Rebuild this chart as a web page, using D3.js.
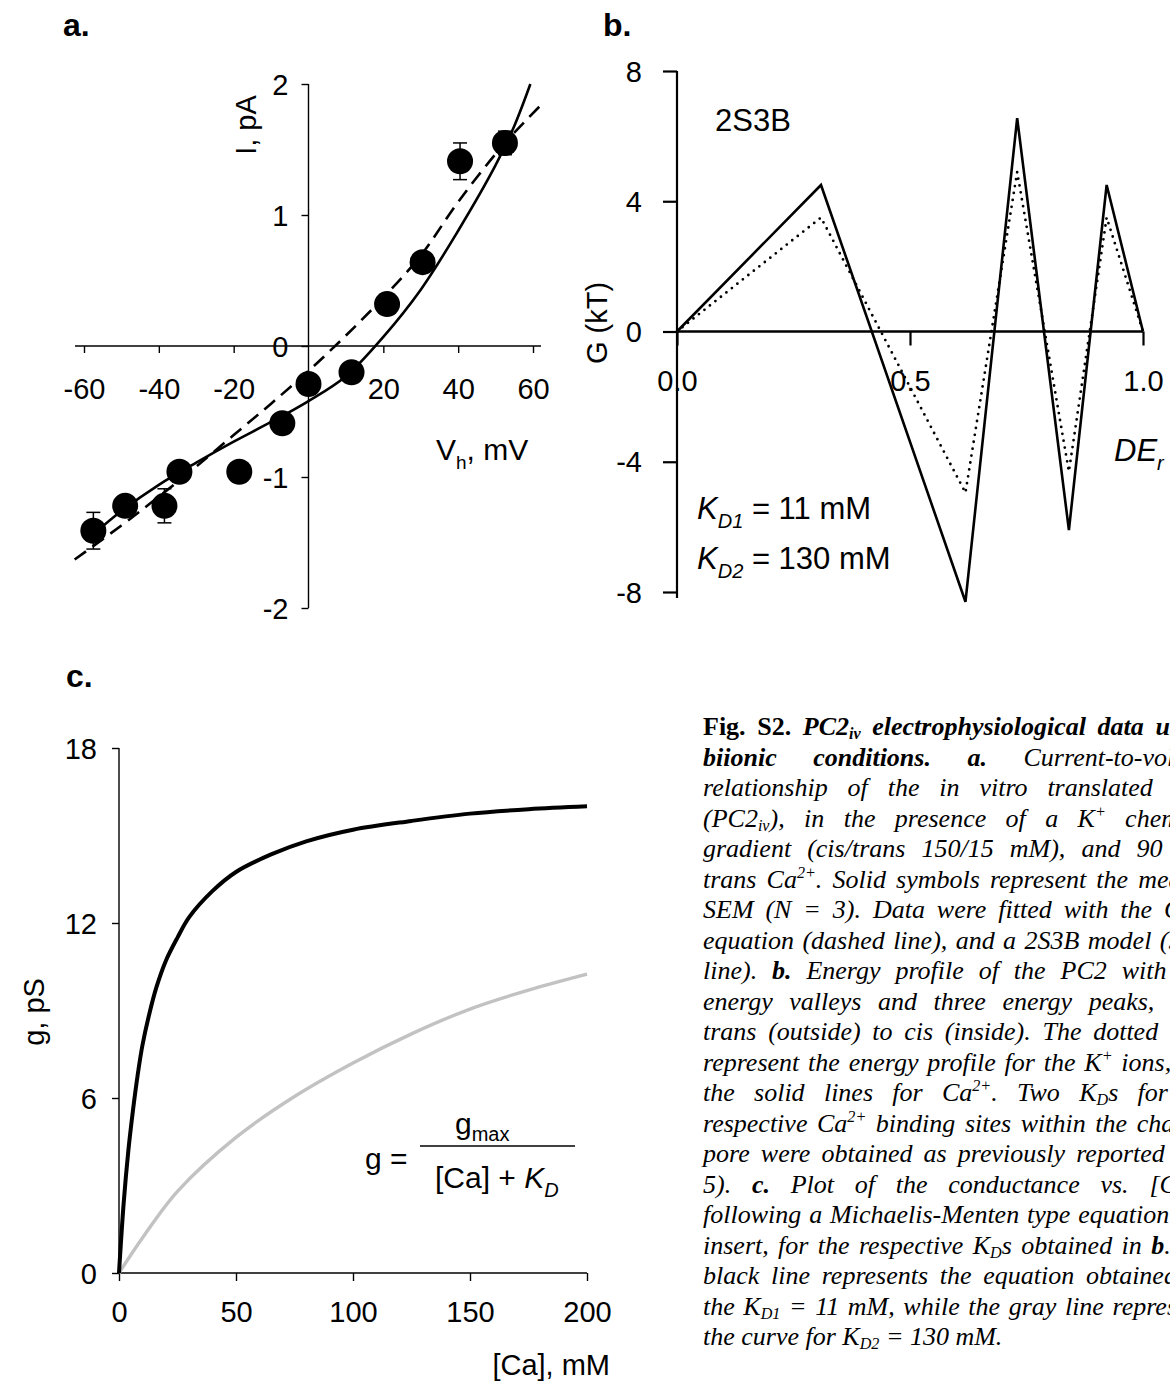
<!DOCTYPE html>
<html><head><meta charset="utf-8">
<script src="https://cdn.jsdelivr.net/npm/d3@7"></script>
<style>
html,body{margin:0;padding:0;background:#fff;overflow:hidden;width:1170px;height:1385px;}
svg text{font-family:"Liberation Sans",Arial,sans-serif;fill:#000;}
#cap{position:absolute;left:703px;top:0;font-family:"Liberation Serif","Times New Roman",serif;font-style:italic;font-size:26px;color:#000;}
.ln{position:absolute;left:0;height:30px;line-height:30px;display:flex;justify-content:space-between;}
.ln span{white-space:nowrap;flex-shrink:0;}
.last{position:absolute;left:0;line-height:30px;white-space:nowrap;}
#cap b{font-weight:bold;}
#cap strong{font-weight:bold;font-style:normal;}
#cap sub,#cap sup{font-size:0.62em;line-height:0;}
#cap sub{vertical-align:-0.25em;}
#cap sup{vertical-align:0.6em;}
</style></head><body>
<svg id="fig" width="1170" height="1385" style="position:absolute;left:0;top:0"></svg>
<div id="cap"></div>
<script>
// ---------- Panel a: I-V data ----------
const ivVoltage = [-57.5, -49, -38.5, -34.5, -18.5, -7, 0, 11.5, 21, 30.5, 40.5, 52.5];
const ivCurrent = [-1.41, -1.22, -1.22, -0.96, -0.96, -0.59, -0.29, -0.20, 0.32, 0.64, 1.41, 1.55];
const ivSem     = [0.14, 0, 0.13, 0, 0, 0, 0, 0, 0, 0, 0.14, 0.09];
const fitV  = [-58, -50, -40, -30, -20, -10, 0, 10, 20, 30, 40, 50, 55, 59.3];
const fitI  = [-1.45, -1.26, -1.06, -0.89, -0.73, -0.58, -0.42, -0.23, 0.07, 0.43, 0.88, 1.38, 1.68, 2.0];
const ghkV  = [-62.5, -50, -40, -30, -20, -10, 0, 10, 20, 30, 40, 52.5, 62.5];
const ghkI  = [-1.63, -1.37, -1.15, -0.92, -0.68, -0.44, -0.19, 0.08, 0.37, 0.69, 1.10, 1.55, 1.85];
const aXTicks = [-60, -40, -20, 20, 40, 60];
const aYTicks = [-2, -1, 0, 1, 2];

// ---------- Panel b: energy profile ----------
const deR   = [0, 0.309, 0.619, 0.730, 0.841, 0.922, 1.0];
const gCa   = [0, 4.5, -8.3, 6.55, -6.1, 4.5, 0];
const gK    = [0, 3.5, -4.95, 4.9, -4.3, 3.5, 0];
const bXTicks = [0, 0.5, 1.0];
const bYTicks = [-8, -4, 0, 4, 8];

// ---------- Panel c: conductance vs [Ca] ----------
const caBlack = [0, 2, 4, 6, 8, 10, 13, 16, 20, 25, 30, 40, 50, 65, 80, 100, 125, 150, 175, 200];
const gBlack  = [0, 2.4, 4.2, 5.6, 6.8, 7.8, 8.9, 9.8, 10.7, 11.5, 12.2, 13.1, 13.75, 14.35, 14.8, 15.2, 15.5, 15.75, 15.9, 16.0];
const caGray  = [0, 10, 25, 50, 75, 100, 125, 150, 175, 200];
const gGray   = [0, 1.2, 2.8, 4.65, 6.05, 7.2, 8.2, 9.05, 9.7, 10.25];
const cXTicks = [0, 50, 100, 150, 200];
const cYTicks = [0, 6, 12, 18];

const captionLines = [
 '<strong>Fig.</strong> <strong>S2.</strong> <b>PC2<sub>iv</sub></b> <b>electrophysiological</b> <b>data</b> <b>under</b>',
 '<b>biionic</b> <b>conditions.</b> <b>a.</b> Current-to-voltage',
 'relationship of the in vitro translated PC2',
 '(PC2<sub>iv</sub>), in the presence of a K<sup>+</sup> chemical',
 'gradient (cis/trans 150/15 mM), and 90 mM',
 'trans Ca<sup>2+</sup>. Solid symbols represent the mean ±',
 'SEM (N = 3). Data were fitted with the GHK',
 'equation (dashed line), and a 2S3B model (solid',
 'line). <b>b.</b> Energy profile of the PC2 with two',
 'energy valleys and three energy peaks, from',
 'trans (outside) to cis (inside). The dotted lines',
 'represent the energy profile for the K<sup>+</sup> ions, and',
 'the solid lines for Ca<sup>2+</sup>. Two K<sub>D</sub>s for the',
 'respective Ca<sup>2+</sup> binding sites within the channel',
 'pore were obtained as previously reported (ref.',
 '5). <b>c.</b> Plot of the conductance vs. [Ca<sup>2+</sup>]',
 'following a Michaelis-Menten type equation (see',
 'insert, for the respective K<sub>D</sub>s obtained in <b>b</b>. The',
 'black line represents the equation obtained for',
 'the K<sub>D1</sub> = 11 mM, while the gray line represents',
 'the curve for K<sub>D2</sub> = 130 mM.'
];

const svg = d3.select("#fig");
const TF = 29; // tick font size

function panelLabel(t, x, y) {
  svg.append("text").attr("x", x).attr("y", y).attr("dy", "0.35em")
    .attr("font-size", 32).attr("font-weight", "bold").text(t);
}

// ================= Panel a =================
{
  const x = d3.scaleLinear([-60, 60], [84, 533]);
  const y = d3.scaleLinear([-2, 2], [608, 84]);
  const g = svg.append("g");
  panelLabel("a.", 63, 25);
  const xa = g.append("g").attr("transform", `translate(0,${y(0)})`)
    .call(d3.axisBottom(x).tickValues(aXTicks).tickSize(7).tickSizeOuter(0));
  xa.select(".domain").remove();
  xa.append("line").attr("x1", 75).attr("x2", 541).attr("stroke", "#000").attr("stroke-width", 1.4);
  xa.selectAll(".tick line").attr("stroke-width", 1.4);
  xa.selectAll(".tick text").attr("y", 43).attr("dy", "0.35em").attr("font-size", TF)
    .attr("font-family", "Liberation Sans").text(d => d);
  const ya = g.append("g").attr("transform", `translate(${x(0)},0)`)
    .call(d3.axisLeft(y).tickValues(aYTicks).tickSize(7).tickSizeOuter(0));
  ya.select(".domain").remove();
  ya.append("line").attr("y1", y(2)).attr("y2", y(-2)).attr("stroke", "#000").attr("stroke-width", 1.4);
  ya.selectAll(".tick line").attr("stroke-width", 1.4);
  ya.selectAll(".tick text").attr("x", -20).attr("dy", "0.35em").attr("font-size", TF)
    .attr("font-family", "Liberation Sans").text(d => d);
  g.append("text").attr("transform", `translate(246,125) rotate(-90)`).attr("text-anchor", "middle")
    .attr("dy", "0.35em").attr("font-size", TF).text("I, pA");
  const vt = g.append("text").attr("x", 436).attr("y", 449).attr("dy", "0.35em").attr("font-size", 30);
  vt.append("tspan").text("V");
  vt.append("tspan").attr("font-size", 19).attr("dy", 9).text("h");
  vt.append("tspan").attr("dy", -9).text(", mV");
  const line = d3.line().curve(d3.curveCatmullRom);
  g.append("path").attr("d", line(ghkV.map((v, i) => [x(v), y(ghkI[i])])))
    .attr("fill", "none").attr("stroke", "#000").attr("stroke-width", 2.6).attr("stroke-dasharray", "14,8");
  g.append("path").attr("d", line(fitV.map((v, i) => [x(v), y(fitI[i])])))
    .attr("fill", "none").attr("stroke", "#000").attr("stroke-width", 2.6);
  ivVoltage.forEach((v, i) => {
    if (!ivSem[i]) return;
    const cx = x(v), y1 = y(ivCurrent[i] + ivSem[i]), y2 = y(ivCurrent[i] - ivSem[i]);
    g.append("line").attr("x1", cx).attr("x2", cx).attr("y1", y1).attr("y2", y2).attr("stroke", "#000").attr("stroke-width", 1.5);
    [y1, y2].forEach(yy => g.append("line").attr("x1", cx - 7).attr("x2", cx + 7).attr("y1", yy).attr("y2", yy)
      .attr("stroke", "#000").attr("stroke-width", 1.5));
  });
  g.selectAll("circle.dot").data(ivVoltage).join("circle").attr("class", "dot")
    .attr("cx", d => x(d)).attr("cy", (d, i) => y(ivCurrent[i])).attr("r", 13).attr("fill", "#000");
}

// ================= Panel b =================
{
  const x = d3.scaleLinear([0, 1], [677, 1143]);
  const y = d3.scaleLinear([-8, 8], [592, 71]);
  const g = svg.append("g");
  panelLabel("b.", 603, 25);
  const ya = g.append("g").attr("transform", `translate(${x(0)},0)`)
    .call(d3.axisLeft(y).tickValues(bYTicks).tickSize(14).tickSizeOuter(0));
  ya.select(".domain").remove();
  ya.append("line").attr("y1", y(8)).attr("y2", 598).attr("stroke", "#000").attr("stroke-width", 2.2);
  ya.selectAll(".tick line").attr("stroke-width", 2.2);
  ya.selectAll(".tick text").attr("x", -35).attr("dy", "0.35em").attr("font-size", TF)
    .attr("font-family", "Liberation Sans").text(d => d);
  const xa = g.append("g").attr("transform", `translate(0,${y(0)})`)
    .call(d3.axisBottom(x).tickValues(bXTicks).tickSize(14).tickSizeOuter(0));
  xa.select(".domain").remove();
  xa.append("line").attr("x1", x(0)).attr("x2", x(1)).attr("stroke", "#000").attr("stroke-width", 2.6);
  xa.selectAll(".tick line").attr("stroke-width", 2.2);
  xa.selectAll(".tick text").attr("y", 49).attr("dy", "0.35em").attr("font-size", TF)
    .attr("font-family", "Liberation Sans").text(d => d3.format(".1f")(d));
  g.append("text").attr("transform", `translate(597,323) rotate(-90)`).attr("text-anchor", "middle")
    .attr("dy", "0.35em").attr("font-size", TF).text("G (kT)");
  const line = d3.line();
  g.append("path").attr("d", line(deR.map((d, i) => [x(d), y(gK[i])])))
    .attr("fill", "none").attr("stroke", "#000").attr("stroke-width", 2.8)
    .attr("stroke-dasharray", "0,7").attr("stroke-linecap", "round");
  g.append("path").attr("d", line(deR.map((d, i) => [x(d), y(gCa[i])])))
    .attr("fill", "none").attr("stroke", "#000").attr("stroke-width", 2.6).attr("stroke-linejoin", "miter");
  g.append("text").attr("x", 715).attr("y", 120).attr("dy", "0.35em").attr("font-size", 31).text("2S3B");
  const de = g.append("text").attr("x", 1114).attr("y", 450).attr("dy", "0.35em").attr("font-size", 31).attr("font-style", "italic");
  de.append("tspan").text("DE");
  de.append("tspan").attr("font-size", 20).attr("dy", 9).text("r");
  [["D1", " = 11 mM", 508], ["D2", " = 130 mM", 558]].forEach(([s, rest, yy]) => {
    const t = g.append("text").attr("x", 697).attr("y", yy).attr("dy", "0.35em").attr("font-size", 31);
    t.append("tspan").attr("font-style", "italic").text("K");
    t.append("tspan").attr("font-style", "italic").attr("font-size", 20).attr("dy", 9).text(s);
    t.append("tspan").attr("dy", -9).text(rest);
  });
}

// ================= Panel c =================
{
  const x = d3.scaleLinear([0, 200], [119, 587]);
  const y = d3.scaleLinear([0, 18], [1273, 748]);
  const g = svg.append("g");
  panelLabel("c.", 66, 676);
  const ya = g.append("g").attr("transform", `translate(${x(0)},0)`)
    .call(d3.axisLeft(y).tickValues(cYTicks).tickSize(7).tickSizeOuter(0));
  ya.select(".domain").remove();
  ya.append("line").attr("y1", y(18)).attr("y2", y(0)).attr("stroke", "#000").attr("stroke-width", 1.4);
  ya.selectAll(".tick line").attr("stroke-width", 1.4);
  ya.selectAll(".tick text").attr("x", -22).attr("dy", "0.35em").attr("font-size", TF)
    .attr("font-family", "Liberation Sans").text(d => d);
  const xa = g.append("g").attr("transform", `translate(0,${y(0)})`)
    .call(d3.axisBottom(x).tickValues(cXTicks).tickSize(8).tickSizeOuter(0));
  xa.select(".domain").remove();
  xa.append("line").attr("x1", x(0)).attr("x2", x(200)).attr("stroke", "#000").attr("stroke-width", 1.4);
  xa.selectAll(".tick line").attr("stroke-width", 1.4);
  xa.selectAll(".tick text").attr("y", 39).attr("dy", "0.35em").attr("font-size", TF)
    .attr("font-family", "Liberation Sans").text(d => d);
  g.append("text").attr("transform", `translate(34,1012) rotate(-90)`).attr("text-anchor", "middle")
    .attr("dy", "0.35em").attr("font-size", TF).text("g, pS");
  g.append("text").attr("x", 610).attr("y", y(0) + 92).attr("dy", "0.35em").attr("text-anchor", "end")
    .attr("font-size", TF).text("[Ca], mM");
  const line = d3.line().curve(d3.curveCatmullRom);
  g.append("path").attr("d", line(caGray.map((c, i) => [x(c), y(gGray[i])])))
    .attr("fill", "none").attr("stroke", "#c2c2c2").attr("stroke-width", 3.4);
  g.append("path").attr("d", line(caBlack.map((c, i) => [x(c), y(gBlack[i])])))
    .attr("fill", "none").attr("stroke", "#000").attr("stroke-width", 4);
  g.append("text").attr("x", 365).attr("y", 1158).attr("dy", "0.35em").attr("font-size", 30).text("g =");
  g.append("line").attr("x1", 420).attr("x2", 575).attr("y1", 1146).attr("y2", 1146).attr("stroke", "#000").attr("stroke-width", 1.3);
  const num = g.append("text").attr("x", 455).attr("y", 1123).attr("dy", "0.35em").attr("font-size", 30);
  num.append("tspan").text("g");
  num.append("tspan").attr("font-size", 20).attr("dy", 7).text("max");
  const den = g.append("text").attr("x", 435).attr("y", 1177).attr("dy", "0.35em").attr("font-size", 30);
  den.append("tspan").text("[Ca] + ");
  den.append("tspan").attr("font-style", "italic").text("K");
  den.append("tspan").attr("font-style", "italic").attr("font-size", 20).attr("dy", 9).text("D");
}

// ================= Caption =================
{
  const cap = d3.select("#cap");
  const W = 516;
  captionLines.forEach((ln, i) => {
    const top = 727 + 30.5 * i - 15;
    if (i === captionLines.length - 1) {
      cap.append("div").attr("class", "last").style("top", top + "px").html(ln);
    } else {
      const d = cap.append("div").attr("class", "ln").style("top", top + "px").style("width", W + "px");
      ln.split(" ").forEach(w => d.append("span").html(w));
    }
  });
}
</script></body></html>
